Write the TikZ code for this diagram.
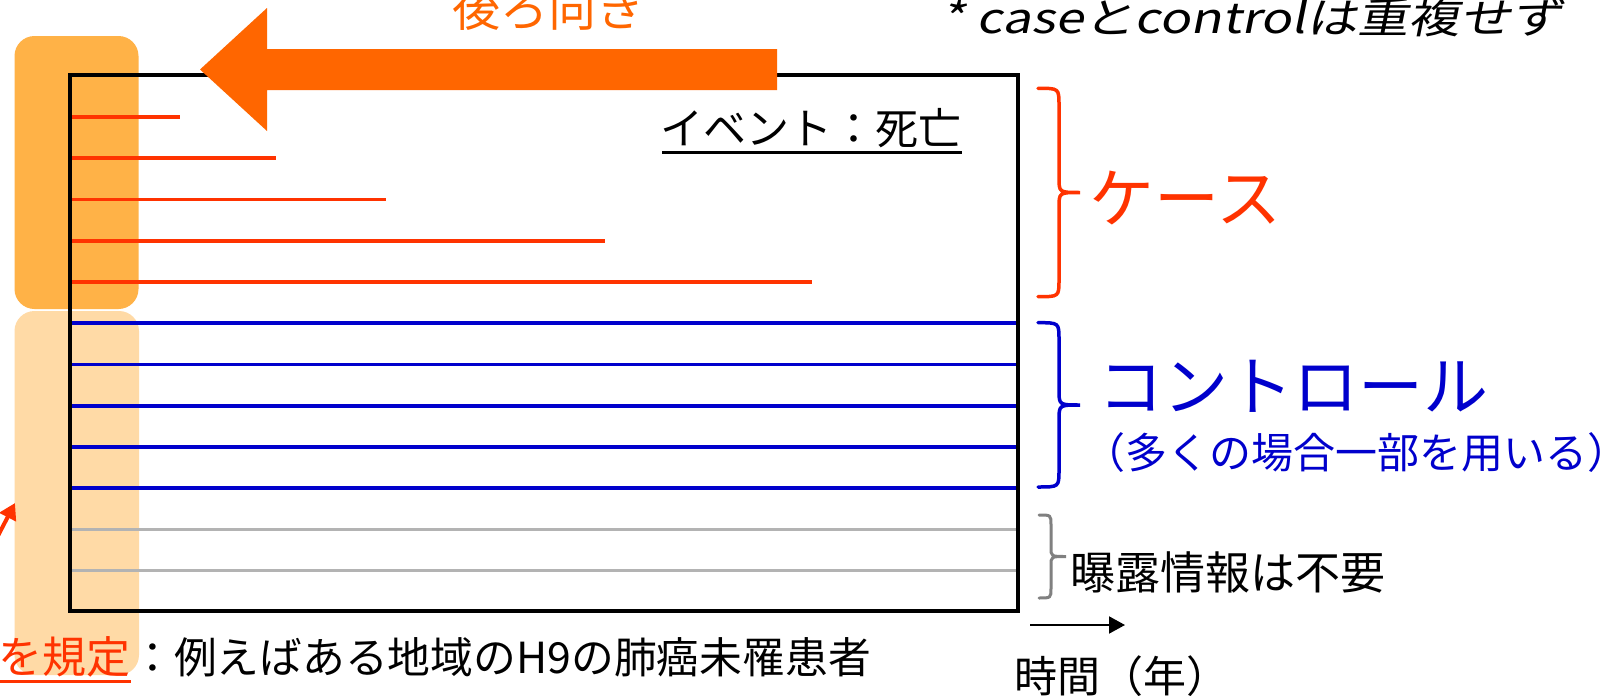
\documentclass[tikz,border=0pt]{standalone}
\usepackage{fontspec}
\setmainfont{Noto Sans CJK JP}
\newfontfamily\jpit[FakeSlant=0.2,FakeStretch=1.22]{Noto Sans CJK JP}
\usetikzlibrary{arrows.meta,calc}
\definecolor{caseRed}{RGB}{255,51,0}
\definecolor{ctrlBlue}{RGB}{0,0,204}
\definecolor{noneGray}{RGB}{179,179,179}
\definecolor{braceGray}{RGB}{128,128,128}
\definecolor{darkOr}{RGB}{255,178,71}
\definecolor{lightOr}{RGB}{255,218,166}
\definecolor{arrowOr}{RGB}{255,102,0}
\begin{document}
\begin{tikzpicture}[x=0.5pt,y=-0.5pt,
  txt/.style={inner sep=0pt, anchor=west, font=\fontsize{21.5pt}{26pt}\selectfont},
  bigtxt/.style={inner sep=0pt, anchor=west, font=\fontsize{32.5pt}{38pt}\selectfont},
  caseline/.style={caseRed, line width=1.9pt},
  ctrlline/.style={ctrlBlue, line width=1.9pt},
  noneline/.style={noneGray, line width=1.7pt},
  bracestyle/.style={line width=1.75pt, line cap=round},
]
\useasboundingbox (0,0) rectangle (1614,696);
\fill[white] (0,0) rectangle (1614,696);

% highlight columns
\fill[darkOr, rounded corners=10pt] (14.5,36) rectangle (138.5,309);
\fill[lightOr, rounded corners=10pt] (14.5,311) rectangle (139,675);

% cohort lines
\foreach \yy/\xx in {117/180, 158.25/276, 199.5/386, 240.75/605, 282/812}
  \draw[caseline] (70,\yy) -- (\xx,\yy);
\foreach \yy in {323.25, 364.5, 405.75, 447, 488.25}
  \draw[ctrlline] (70,\yy) -- (1017.5,\yy);
\foreach \yy in {529.5, 570.75}
  \draw[noneline] (70,\yy) -- (1017.5,\yy);

% frame
\draw[line width=2pt] (70,75) rectangle (1017.5,611);

% big backward arrow
\fill[arrowOr] (777,49) -- (267,49) -- (267,8) -- (200,69.5) -- (267,131) -- (267,90) -- (777,90) -- cycle;

% braces
\draw[bracestyle, caseRed] (1038,88.3) .. controls (1059,88.3) .. (1059,105.3) -- (1059,177.5)
  .. controls (1059,192.5) .. (1080,192.5) .. controls (1059,192.5) .. (1059,207.5)
  -- (1059,279.7) .. controls (1059,296.7) .. (1038,296.7);
\draw[bracestyle, ctrlBlue] (1038,322.7) .. controls (1059,322.7) .. (1059,339.7) -- (1059,390)
  .. controls (1059,405) .. (1080,405) .. controls (1059,405) .. (1059,420)
  -- (1059,470) .. controls (1059,487) .. (1038,487);
\draw[bracestyle, braceGray, line width=1.5pt] (1039,515) .. controls (1051,515) .. (1051,525) -- (1051,547.5)
  .. controls (1051,556.5) .. (1066,556.5) .. controls (1051,556.5) .. (1051,565.5)
  -- (1051,588) .. controls (1051,598) .. (1039,598);

% texts
\node[inner sep=0pt, anchor=west, text=arrowOr, font=\fontsize{24pt}{29pt}\selectfont] (back) at (452,8.4) {後ろ向き};
\node[inner sep=0pt, anchor=west, font=\jpit\fontsize{21pt}{26pt}\selectfont] (note) at (941,18) {* caseとcontrolは重複せず};
\node[txt] (event) at (660,128.5) {イベント：死亡};
\draw[line width=1.25pt] ($(event.south west)+(2,4)$) -- ($(event.south east)+(0,4)$);
\node[bigtxt, text=caseRed] (case) at (1089,198.5) {ケース};
\node[bigtxt, text=ctrlBlue] (ctrl) at (1098,386.5) {コントロール};
\node[txt, text=ctrlBlue, font=\fontsize{21pt}{25pt}\selectfont] (part) at (1083,452.5) {（多くの場合一部を用いる）};
\node[txt, font=\fontsize{22.5pt}{27pt}\selectfont] (noexp) at (1070,572.5) {曝露情報は不要};
\node[txt] (time) at (1014,676.5) {時間（年）};
\node[txt, text=caseRed, font=\fontsize{22pt}{26pt}\selectfont] (defn) at (-2,656.5) {を規定};
\draw[caseRed, line width=1.5pt] ($(defn.south west)+(0,4)$) -- ($(defn.south east)+(0,4)$);
\node[txt, anchor=base west, font=\fontsize{21.4pt}{26pt}\selectfont] (eg) at (defn.base east) {：例えばある地域のH9の肺癌未罹患者};

% time arrow
\coordinate (t1) at (1030,625);
\coordinate (t2) at (1125,625);
\draw[line width=1pt, -{Triangle[length=8pt,width=8.5pt]}] (t1) -- (t2);

% small red arrow at left
\coordinate (r1) at (-12,555);
\coordinate (r2) at (15,503);
\draw[caseRed, line width=2pt, -{Triangle[length=8pt,width=9pt]}] (r1) -- (r2);
\end{tikzpicture}
\end{document}
